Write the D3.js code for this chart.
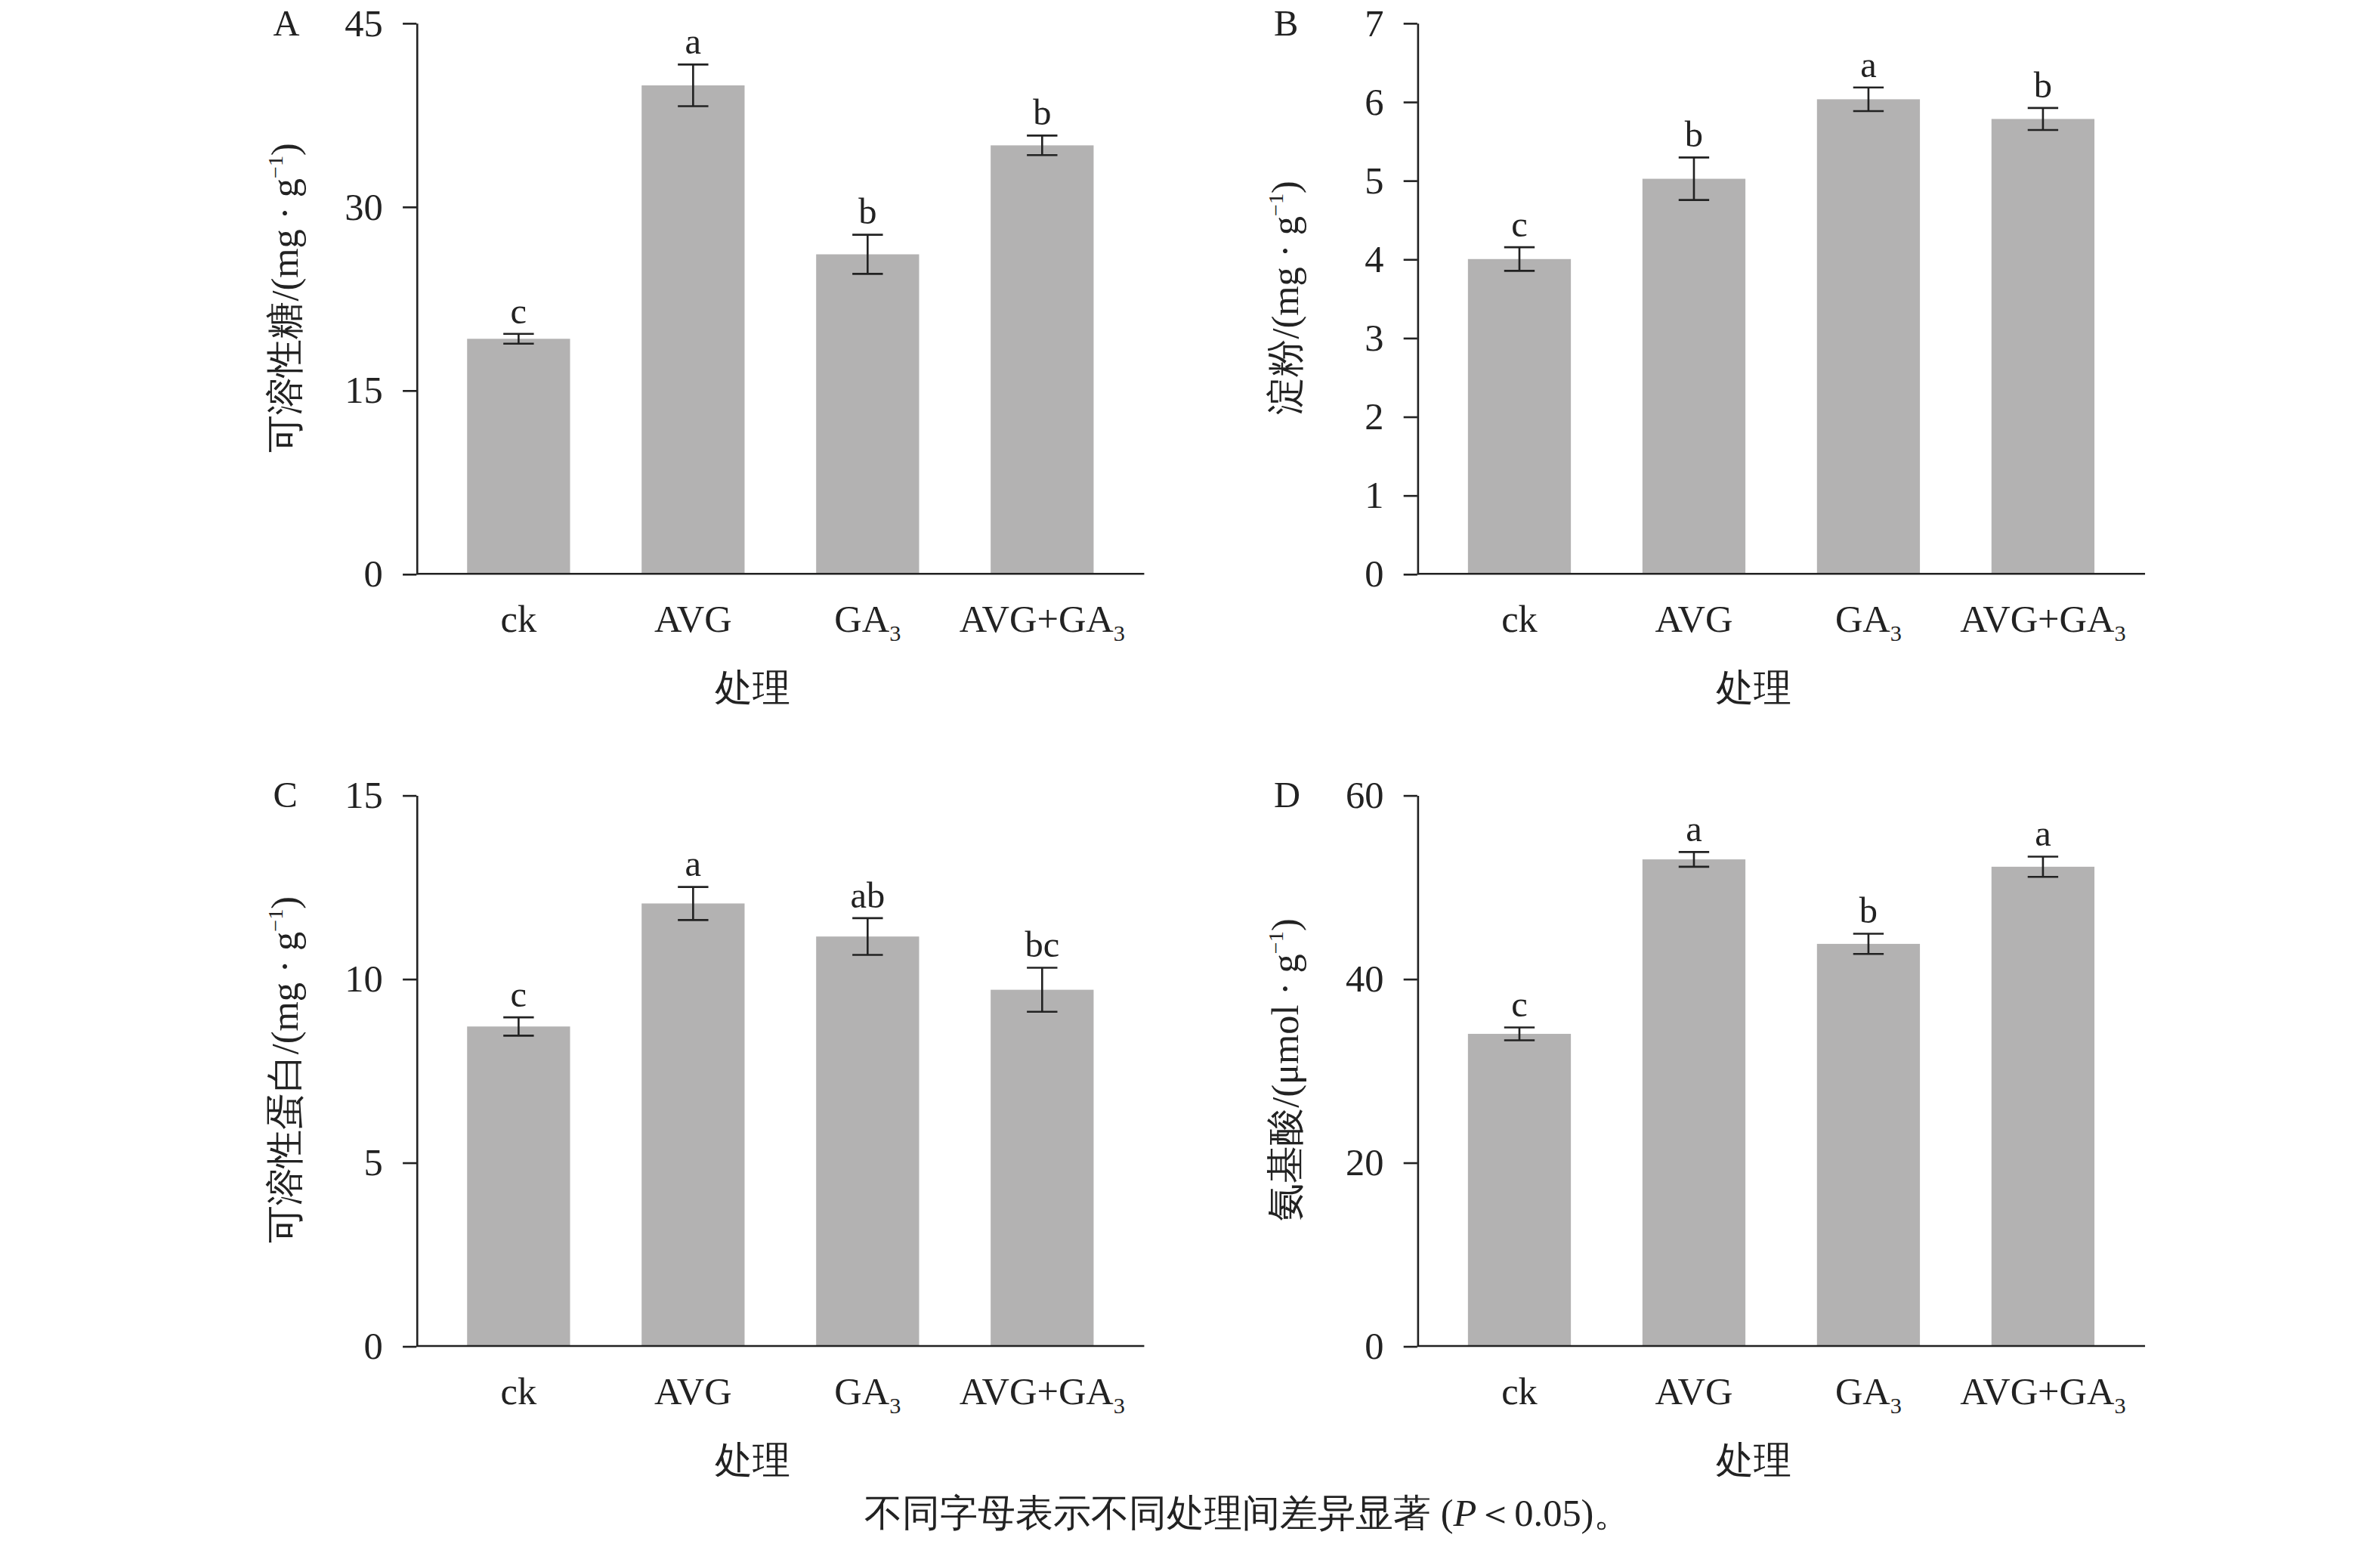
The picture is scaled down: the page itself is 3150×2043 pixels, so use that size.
<!DOCTYPE html>
<html><head><meta charset="utf-8">
<script src="https://cdn.jsdelivr.net/npm/d3@7"></script>
<style>body{margin:0;background:#fff}text{font-family:"Liberation Serif","Times New Roman",serif;fill:#222}</style>
</head><body>
<script>
// chart data
var categories = ["ck", "AVG", "GA3", "AVG+GA3"];
var sugar = [19.2, 39.9, 26.1, 35.0], sugarErr = [0.4, 1.7, 1.6, 0.8], sugarSig = ["c", "a", "b", "b"];
var starch = [4.0, 5.02, 6.03, 5.78], starchErr = [0.15, 0.27, 0.15, 0.14], starchSig = ["c", "b", "a", "b"];
var protein = [8.7, 12.05, 11.15, 9.7], proteinErr = [0.25, 0.45, 0.5, 0.6], proteinSig = ["c", "a", "ab", "bc"];
var amino = [34.0, 53.0, 43.8, 52.2], aminoErr = [0.7, 0.8, 1.1, 1.1], aminoSig = ["c", "a", "b", "a"];

var svg = d3.select("body").append("svg")
  .attr("width", 3150).attr("height", 2043)
  .attr("viewBox", "0 0 1560 1011.7");

var panels = [
  {id: "A", x: 273, y: 15, vals: sugar, err: sugarErr, sig: sugarSig, max: 45, ticks: [0, 15, 30, 45], title: "可溶性糖/(mg · g"},
  {id: "B", x: 929, y: 15, vals: starch, err: starchErr, sig: starchSig, max: 7, ticks: [0,1,2,3,4,5,6,7], title: "淀粉/(mg · g"},
  {id: "C", x: 273, y: 521, vals: protein, err: proteinErr, sig: proteinSig, max: 15, ticks: [0, 5, 10, 15], title: "可溶性蛋白/(mg · g"},
  {id: "D", x: 929, y: 521, vals: amino, err: aminoErr, sig: aminoSig, max: 60, ticks: [0, 20, 40, 60], title: "氨基酸/(μmol · g"}
];

var W = 477, H = 361;

function catLabel(sel, c) {
  if (c.indexOf("GA3") >= 0) {
    sel.text(c.replace("GA3", "GA"));
    sel.append("tspan").attr("font-size", 15).attr("dy", 6).text("3");
  } else sel.text(c);
}

panels.forEach(function(p) {
  var g = svg.append("g").attr("transform", "translate(" + p.x + "," + p.y + ")");
  var x = d3.scaleBand().domain(categories).range([0, W]).paddingInner(0.41).paddingOuter(0.29);
  var y = d3.scaleLinear().domain([0, p.max]).range([H, 0]);

  g.selectAll("rect").data(p.vals).enter().append("rect")
    .attr("x", function(d, i) { return x(categories[i]); })
    .attr("y", function(d) { return y(d); })
    .attr("width", x.bandwidth())
    .attr("height", function(d) { return H - y(d); })
    .attr("fill", "#b3b2b2");

  // error bars
  p.vals.forEach(function(v, i) {
    var cx = x(categories[i]) + x.bandwidth() / 2, e = p.err[i];
    var eg = g.append("g").attr("stroke", "#222").attr("stroke-width", 1.3);
    eg.append("line").attr("x1", cx).attr("x2", cx).attr("y1", y(v + e)).attr("y2", y(v - e));
    eg.append("line").attr("x1", cx - 10).attr("x2", cx + 10).attr("y1", y(v + e)).attr("y2", y(v + e));
    eg.append("line").attr("x1", cx - 10).attr("x2", cx + 10).attr("y1", y(v - e)).attr("y2", y(v - e));
    g.append("text").attr("x", cx).attr("y", y(v + e) - 7).attr("text-anchor", "middle")
      .attr("font-size", 24).text(p.sig[i]);
  });

  var ya = g.append("g").call(d3.axisLeft(y).tickValues(p.ticks).tickFormat(d3.format("d")).tickSize(9).tickSizeOuter(0));
  ya.select(".domain").attr("stroke", "#222").attr("stroke-width", 1.3);
  ya.selectAll("line").attr("stroke", "#222").attr("stroke-width", 1.3);
  ya.selectAll("text").attr("font-size", 25).attr("x", -22).attr("font-family", "Liberation Serif").attr("fill", "#222");

  g.append("line").attr("x1", 0).attr("x2", W).attr("y1", H).attr("y2", H)
    .attr("stroke", "#222").attr("stroke-width", 1.3);

  categories.forEach(function(c) {
    g.append("text").attr("x", x(c) + x.bandwidth() / 2).attr("y", H + 38)
      .attr("text-anchor", "middle").attr("font-size", 25).call(catLabel, c);
  });

  g.append("text").attr("x", W / 2 - 18).attr("y", H + 83).attr("text-anchor", "middle")
    .attr("font-size", 25).text("处理");

  g.append("text").attr("x", -94).attr("y", 8).attr("font-size", 24).text(p.id);

  var t = g.append("text").attr("transform", "translate(-78,180) rotate(-90)")
    .attr("text-anchor", "middle").attr("font-size", 25).text(p.title);
  t.append("tspan").attr("font-size", 14).attr("dy", -10).text("−1");
  t.append("tspan").attr("dy", 10).text(")");
});

var foot = svg.append("text").attr("x", 818).attr("y", 1000).attr("text-anchor", "middle")
  .attr("font-size", 25).text("不同字母表示不同处理间差异显著 (");
foot.append("tspan").attr("font-style", "italic").text("P");
foot.append("tspan").text("＜0.05)。");
</script>
</body></html>
